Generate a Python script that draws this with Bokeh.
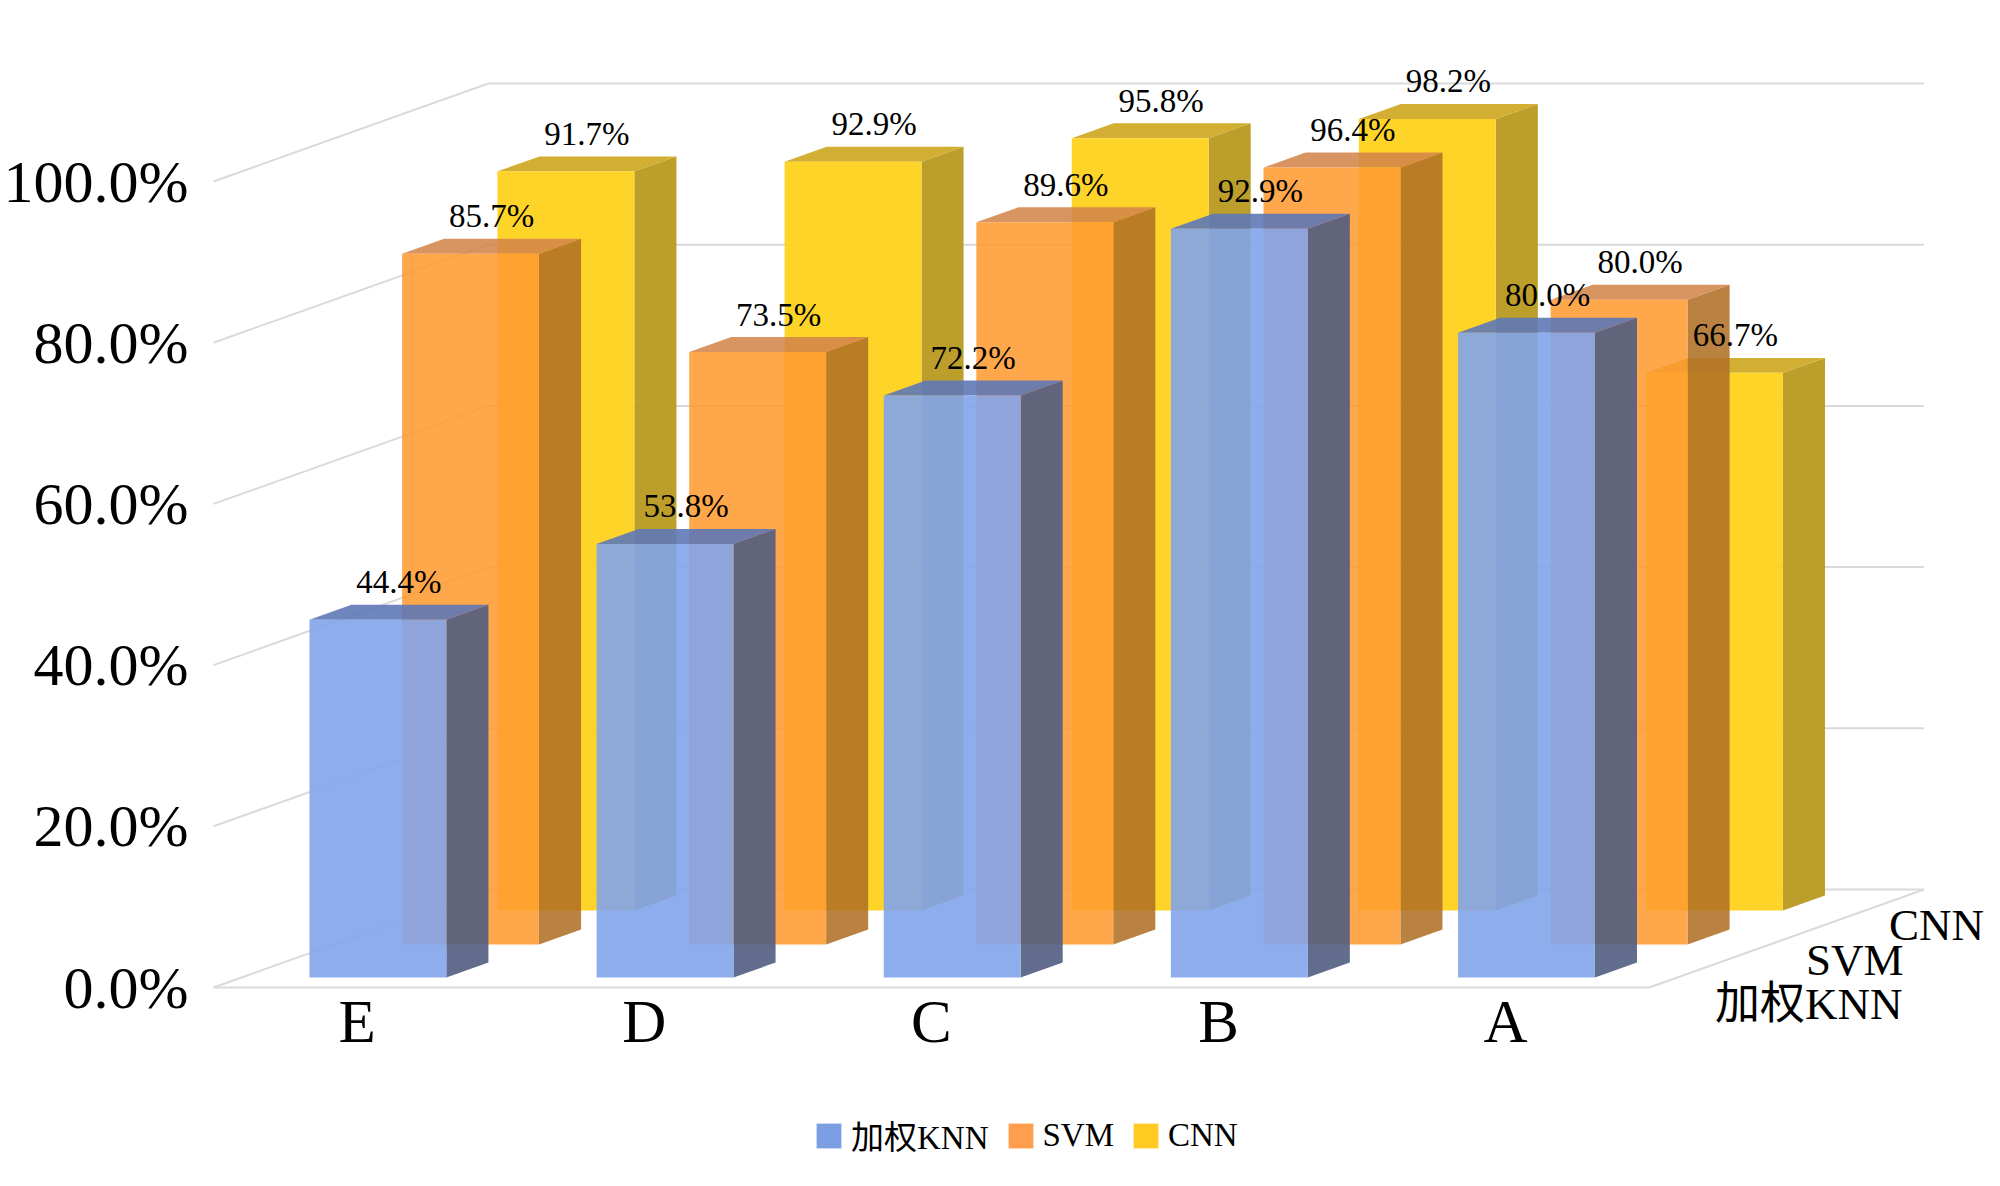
from bokeh.plotting import figure
from bokeh.models import Range1d, FixedTicker, Legend, LegendItem
from bokeh.embed import file_html
from bokeh.resources import INLINE
from bokeh.core.properties import value

# ---------------- data ----------------
categories = ["E", "D", "C", "B", "A"]
series_names = ["加权KNN", "SVM", "CNN"]
knn_values = [44.4, 53.8, 72.2, 92.9, 80.0]
svm_values = [85.7, 73.5, 89.6, 96.4, 80.0]
cnn_values = [91.7, 92.9, 95.8, 98.2, 66.7]
y_ticks = [0, 20, 40, 60, 80, 100]
y_tick_labels = ["0.0%", "20.0%", "40.0%", "60.0%", "80.0%", "100.0%"]

# ---------------- styling / geometry ----------------
W, H = 1984, 1170
LEFT = 197
PX_X = 287.3          # px per category slot
PX_Y = 8.06           # px per percent
X0_PX = 15            # slot 0 starts this many px right of frame left
Y0_PX = 987           # 0% of front plane, px from top of figure
DEPTH_X = 275 / PX_X  # full box depth, x units
DEPTH_Y = 98 / PX_Y   # full box depth, % units
ROW_FRONT = [0.102, 0.439, 0.786]
ROW_BACK = [0.255, 0.592, 0.939]
BAR_W = 137 / PX_X
BAR_OFF = 0.475

SERIF = "'Liberation Serif', 'Noto Sans CJK SC'"
GRID_COLOR = "#DADADA"

face_colors = {
    "front": ["#82A4EA", "#FF9A30", "#FFD21E"],
    "side": ["#515D81", "#B06F25", "#B8991F"],
    "top": ["#5E78B7", "#D2844A", "#D0AA28"],
}
alphas = [0.9, 0.87, 0.95]
legend_colors = ["#7C9EE2", "#FF9E4F", "#FFCB23"]

frame_w = W - LEFT
x_start = -X0_PX / PX_X
x_end = x_start + frame_w / PX_X
y_end = Y0_PX / PX_Y
y_start = -(H - Y0_PX) / PX_Y

p = figure(width=W, height=H, output_backend="svg", toolbar_location=None,
           x_range=Range1d(x_start, x_end), y_range=Range1d(y_start, y_end),
           x_axis_location=None, y_axis_location="left",
           min_border_left=LEFT, min_border_right=0, min_border_top=0, min_border_bottom=0)
p.outline_line_color = None
p.grid.visible = False
p.background_fill_color = "white"

# y axis (front plane)
ax = p.yaxis[0]
ax.ticker = FixedTicker(ticks=y_ticks)
ax.major_label_overrides = {t: l for t, l in zip(y_ticks, y_tick_labels)}
ax.axis_line_color = None
ax.major_tick_line_color = None
ax.minor_tick_line_color = None
ax.major_tick_out = 0
ax.major_tick_in = 0
ax.major_label_standoff = 10
ax.major_label_text_font = "Liberation Serif"
ax.major_label_text_font_size = "60px"
ax.major_label_text_color = "black"


def proj(x, y, z):
    return x + z * DEPTH_X, y + z * DEPTH_Y


n = len(categories)

# grid lines: left wall + back wall, floor edges
gx, gy = [], []
for t in y_ticks:
    a = proj(0, t, 0)
    b = proj(0, t, 1)
    c = proj(n, t, 1)
    gx.append([a[0], b[0], c[0]])
    gy.append([a[1], b[1], c[1]])
fa, fb, fc = proj(0, 0, 0), proj(n, 0, 0), proj(n, 0, 1)
gx.append([fa[0], fb[0], fc[0]])
gy.append([fa[1], fb[1], fc[1]])
p.multi_line(gx, gy, line_color=GRID_COLOR, line_width=2)

series_values = [knn_values, svm_values, cnn_values]

label_x, label_y, label_t = [], [], []
# draw back row first
for r in [2, 1, 0]:
    vals = series_values[r]
    zf, zb = ROW_FRONT[r], ROW_BACK[r]
    faces = {"front": ([], []), "side": ([], []), "top": ([], [])}
    for i, v in enumerate(vals):
        c = i + BAR_OFF
        x0, x1 = c - BAR_W / 2, c + BAR_W / 2
        pts = {
            "front": [(x0, 0, zf), (x1, 0, zf), (x1, v, zf), (x0, v, zf)],
            "side": [(x1, 0, zf), (x1, 0, zb), (x1, v, zb), (x1, v, zf)],
            "top": [(x0, v, zf), (x1, v, zf), (x1, v, zb), (x0, v, zb)],
        }
        for k, pl in pts.items():
            pr = [proj(*q) for q in pl]
            faces[k][0].append([q[0] for q in pr])
            faces[k][1].append([q[1] for q in pr])
        lx, ly = proj(c, v, (zf + zb) / 2)
        label_x.append(lx)
        label_y.append(ly)
        label_t.append(f"{v:.1f}%")
    for k in ["side", "top", "front"]:
        p.patches(faces[k][0], faces[k][1], fill_color=face_colors[k][r],
                  fill_alpha=alphas[r], line_color=None)

# value labels
p.text(label_x, label_y, text=label_t, text_font=value("Liberation Serif"),
       text_font_size="33px", text_color="black", text_align="center",
       text_baseline="alphabetic", y_offset=-30)

# category labels
p.text([i + 0.5 for i in range(n)], [-4.2] * n, text=categories,
       text_font=value("Liberation Serif"), text_font_size="61px",
       text_color="black", text_align="center", text_baseline="alphabetic")

# depth axis labels
depth_x = [5.882, 5.886, 5.835]
depth_y = [-2.0, 3.35, 7.7]
depth_align = ["right", "right", "left"]
for r in range(3):
    p.text([depth_x[r]], [depth_y[r]], text=[series_names[r]], text_font=value(SERIF),
           text_font_size="45px", text_color="black", text_align=depth_align[r],
           text_baseline="alphabetic")

# legend (swatch renderers carry no visible data)
nan = float("nan")
items = []
for r in range(3):
    dummy = p.quad(left=[nan], right=[nan], top=[nan], bottom=[nan],
                   fill_color=legend_colors[r], line_color=None)
    items.append(LegendItem(label=series_names[r], renderers=[dummy]))
legend = Legend(items=items, orientation="horizontal", location=(615, 11),
                glyph_width=31, glyph_height=31, label_standoff=7, spacing=16,
                padding=0, margin=0, border_line_color=None, background_fill_alpha=0,
                label_text_font=SERIF, label_text_font_size="33px",
                label_text_color="black")
p.add_layout(legend)

open("out.html", "w").write(file_html(p, INLINE))
